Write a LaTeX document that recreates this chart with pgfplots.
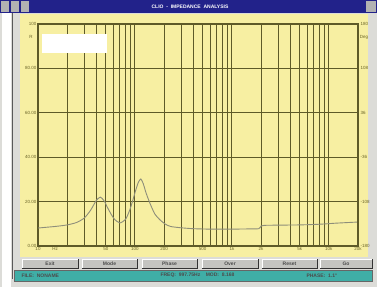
\documentclass[border=0pt]{standalone}
\usepackage{pgfplots}
\pgfplotsset{compat=1.18}
\usepackage{fontspec}
\setmainfont{Liberation Sans}
\definecolor{winbg}{HTML}{DCDCD8}
\definecolor{titlebar}{HTML}{22228A}
\definecolor{panel}{HTML}{F7EFA2}
\definecolor{gridc}{HTML}{5E5A28}
\definecolor{labc}{HTML}{6A6428}
\definecolor{curvec}{HTML}{8E8E7A}
\definecolor{btn}{HTML}{C4C4C0}
\definecolor{status}{HTML}{3FAEA6}
\begin{document}
\begin{tikzpicture}[x=1pt,y=1pt]
\path[use as bounding box] (0,0) rectangle (377,287);
% window background
\fill[winbg] (0,0) rectangle (377,287);
\fill[white] (2,0) rectangle (11,274);
\draw[gray!70!black,line width=1pt] (12,8) -- (12,274);
% title bar
\fill[titlebar] (0,274) rectangle (377,287);
\foreach \i in {0,10,20}{\fill[gray!60] (\i+1,275) rectangle (\i+9,286);}
\fill[gray!60] (366,275) rectangle (376,286);
\node[white,font=\fontsize{5}{6}\selectfont\bfseries] at (190,280.5) {CLIO\ \ -\ \ IMPEDANCE\ \ ANALYSIS};
% yellow panel
\fill[panel] (20,30) rectangle (368,273);
% buttons
\foreach \a/\b/\t in {22/78/Exit,82/137/Mode,142/197/Phase,202/258/Over,262/317/Reset,320/372/Go}{
  \fill[btn] (\a,19) rectangle (\b,28);
  \draw[gray!40!black,line width=0.6pt] (\a,19) -- (\b,19) -- (\b,28);
  \draw[white,line width=0.6pt] (\a,19) -- (\a,28) -- (\b,28);
  \node[black!70,font=\fontsize{5}{6}\selectfont\bfseries] at ({(\a+\b)/2},23.5) {\t};
}
% status bar
\fill[status] (14,6) rectangle (372,17);
\draw[black!60,line width=0.6pt] (14,6) rectangle (372,17);
\node[anchor=west,black!70,font=\fontsize{5}{6}\selectfont\bfseries] at (18,11.5) {FILE:\ \ NONAME};
\node[anchor=west,black!70,font=\fontsize{5}{6}\selectfont\bfseries] at (157,11.5) {FREQ:\ \ 997.75Hz\ \ \ \ MOD:\ \ 8.168};
\node[anchor=west,black!70,font=\fontsize{5}{6}\selectfont\bfseries] at (303,11.5) {PHASE:\ \ 1.1°};
\begin{axis}[
  at={(38pt,41pt)}, anchor=south west,
  scale only axis, width=320pt, height=222pt,
  xmode=log, xmin=10, xmax=20000, ymin=0, ymax=100,
  axis background/.style={fill=panel},
  axis line style={gridc,line width=1.1pt},
  xtick={10,20,30,40,50,60,70,80,90,100,200,300,400,500,600,700,800,900,1000,2000,3000,4000,5000,6000,7000,8000,9000,10000,20000},
  xticklabels={10,,,,50,,,,,100,200,,,500,,,,,1k,2k,,,5k,,,,,10k,20k},
  extra x ticks={15}, extra x tick labels={Hz},
  extra x tick style={grid=none},
  ytick={0,20,40,60,80,100},
  yticklabels={0.00,20.00,40.00,60.00,80.00,100},
  grid=major,
  major grid style={gridc,line width=1pt},
  major tick length=0pt,
  minor tick num=0,
  tick label style={labc,font=\fontsize{4.5}{5}\selectfont},
  xticklabel style={yshift=2pt},
  yticklabel style={xshift=2pt},
  clip=true,
]
\fill[white] (axis cs:11.1,87) rectangle (axis cs:51,95.5);
\addplot[curvec,line width=0.9pt,smooth,tension=0.4] coordinates {
(10,8.1) (15,8.8) (20,9.5) (25,10.6) (30,12.6) (35,16.2) (40,20.6) (44,22) (48,20.4)
(52,17.4) (57,14.2) (62,11.9) (70,10.4) (80,12) (88,16) (95,20.5) (100,24) (108,28.5)
(115,30.2) (122,28) (130,24) (143,19.2) (160,14.5) (182,11.7) (205,9.9) (233,8.8)
(300,8.2) (400,7.8) (600,7.6) (1000,7.6) (1500,7.7) (1900,7.8) (2000,9.0) (2150,9.3)
(3000,9.4) (5000,9.5) (8000,9.8) (12000,10.3) (20000,10.8)};
\end{axis}
\node[labc,font=\fontsize{4.5}{5}\selectfont] at (31,250) {R};
\begin{axis}[
  at={(38pt,41pt)}, anchor=south west,
  scale only axis, width=320pt, height=222pt,
  xmin=0, xmax=1, ymin=-180, ymax=180,
  axis x line=none, axis y line*=right,
  axis line style={gridc,line width=1.1pt},
  ytick={-180,-108,-36,36,108,180},
  yticklabels={-180,-108,-36,36,108,180},
  major tick length=0pt,
  tick label style={labc,font=\fontsize{4.5}{5}\selectfont},
  yticklabel style={xshift=-1pt},
]
\end{axis}
\node[labc,font=\fontsize{4.5}{5}\selectfont] at (364,250) {Deg};
\end{tikzpicture}
\end{document}
